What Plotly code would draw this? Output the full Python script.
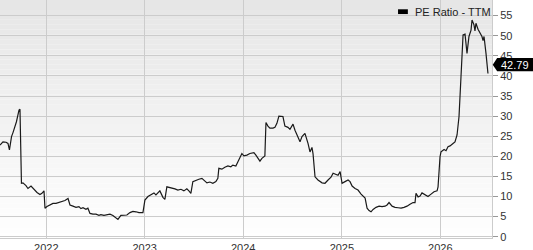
import pandas as pd
import plotly.graph_objects as go

# decimal-year time stamps and PE ratio values
t_years = [2021.530, 2021.560, 2021.591, 2021.611, 2021.626, 2021.647, 2021.662, 2021.682, 2021.697, 2021.723,
           2021.733, 2021.748, 2021.763, 2021.794, 2021.814, 2021.845, 2021.875, 2021.906, 2021.936, 2021.956,
           2021.977, 2021.987, 2022.007, 2022.038, 2022.068, 2022.099, 2022.129, 2022.160, 2022.190, 2022.221,
           2022.241, 2022.271, 2022.302, 2022.332, 2022.352, 2022.373, 2022.403, 2022.423, 2022.444, 2022.474,
           2022.505, 2022.535, 2022.555, 2022.586, 2022.616, 2022.647, 2022.677, 2022.708, 2022.728, 2022.758,
           2022.789, 2022.819, 2022.850, 2022.880, 2022.911, 2022.941, 2022.982, 2023.002, 2023.033, 2023.063,
           2023.094, 2023.114, 2023.134, 2023.154, 2023.185, 2023.205, 2023.225, 2023.246, 2023.276, 2023.307,
           2023.337, 2023.368, 2023.398, 2023.428, 2023.449, 2023.469, 2023.489, 2023.520, 2023.550, 2023.581,
           2023.611, 2023.632, 2023.662, 2023.692, 2023.723, 2023.743, 2023.753, 2023.784, 2023.814, 2023.845,
           2023.875, 2023.895, 2023.926, 2023.946, 2023.967, 2023.987, 2024.007, 2024.038, 2024.068, 2024.109,
           2024.129, 2024.170, 2024.190, 2024.220, 2024.231, 2024.251, 2024.271, 2024.302, 2024.322, 2024.342,
           2024.362, 2024.383, 2024.403, 2024.423, 2024.454, 2024.474, 2024.505, 2024.525, 2024.545, 2024.576,
           2024.596, 2024.626, 2024.657, 2024.677, 2024.697, 2024.708, 2024.728, 2024.758, 2024.799, 2024.829,
           2024.860, 2024.890, 2024.911, 2024.941, 2024.961, 2024.982, 2025.002, 2025.032, 2025.063, 2025.083,
           2025.104, 2025.134, 2025.164, 2025.195, 2025.215, 2025.236, 2025.256, 2025.276, 2025.296, 2025.317,
           2025.347, 2025.378, 2025.408, 2025.439, 2025.459, 2025.479, 2025.510, 2025.540, 2025.571, 2025.601,
           2025.631, 2025.662, 2025.692, 2025.723, 2025.743, 2025.753, 2025.774, 2025.794, 2025.814, 2025.845,
           2025.875, 2025.906, 2025.936, 2025.967, 2025.977, 2025.997, 2026.007, 2026.038, 2026.058, 2026.078,
           2026.099, 2026.129, 2026.149, 2026.170, 2026.190, 2026.210, 2026.231, 2026.251, 2026.271, 2026.291,
           2026.312, 2026.322, 2026.342, 2026.352, 2026.362, 2026.383, 2026.403, 2026.423, 2026.434, 2026.444,
           2026.464, 2026.484]
pe_values = [22.8, 23.6, 23.5, 23.2, 21.6, 24.9, 25.9, 27.4, 28.6, 31.5,
             31.7, 13.3, 13.4, 12.7, 12.0, 12.6, 11.8, 11.0, 10.5, 10.8,
             11.4, 7.1, 7.5, 7.9, 8.3, 8.3, 8.5, 8.9, 9.0, 9.5,
             7.9, 7.6, 7.3, 7.5, 7.0, 7.2, 6.8, 7.1, 5.8, 5.6,
             5.6, 5.3, 5.5, 5.3, 5.5, 5.6, 5.3, 4.8, 4.3, 5.3,
             5.4, 5.4, 6.0, 6.3, 6.2, 6.0, 6.0, 9.1, 10.0, 10.4,
             10.9, 10.4, 10.9, 11.4, 9.8, 9.3, 12.4, 12.3, 12.0, 11.9,
             11.6, 11.8, 11.4, 11.9, 11.4, 10.8, 13.7, 14.1, 14.3, 14.5,
             13.9, 13.4, 13.6, 13.3, 13.7, 14.5, 17.0, 16.8, 17.3, 17.6,
             17.4, 17.8, 17.6, 18.7, 19.8, 20.7, 20.1, 20.3, 20.7, 20.9,
             20.3, 18.8, 19.5, 20.1, 28.4, 27.5, 27.0, 27.0, 27.2, 28.2,
             30.0, 30.0, 29.9, 27.5, 27.2, 26.7, 28.0, 26.5, 25.3, 23.6,
             24.9, 25.7, 23.2, 21.1, 22.2, 20.6, 14.9, 14.1, 13.4, 13.3,
             14.1, 14.8, 15.8, 15.6, 15.3, 16.2, 13.3, 13.7, 14.1, 13.7,
             12.6, 12.0, 11.6, 10.6, 10.1, 9.6, 7.1, 6.5, 6.2, 6.8,
             7.3, 7.6, 7.5, 7.6, 7.9, 8.5, 7.6, 7.3, 7.2, 7.1,
             7.3, 7.6, 8.1, 8.5, 8.5, 10.8, 9.9, 10.1, 10.9, 10.4,
             10.0, 10.6, 11.2, 11.4, 12.4, 19.9, 21.1, 21.7, 21.4, 22.4,
             22.6, 23.2, 23.6, 25.3, 29.9, 39.8, 50.2, 50.4, 45.6, 49.8,
             51.4, 53.9, 52.7, 51.2, 53.1, 51.6, 50.6, 49.8, 48.8, 49.8,
             45.6, 40.6]
series_name = "PE Ratio - TTM"
last_label = 42.79
y_ticks = [0, 5, 10, 15, 20, 25, 30, 35, 40, 45, 50, 55]


def to_date(y):
    yr = int(y)
    start = pd.Timestamp(yr, 1, 1)
    diy = (pd.Timestamp(yr + 1, 1, 1) - start).days
    return start + pd.Timedelta(days=(y - yr) * diy)


dates = [to_date(v) for v in t_years]

fig = go.Figure()
fig.add_trace(go.Scatter(x=dates, y=pe_values, mode="lines",
                         line=dict(color="#1a1a1a", width=1.2),
                         showlegend=False, hoverinfo="skip"))

shapes = []
# vertical gradient background
n = 48
for i in range(n):
    c = int(230 + (255 - 230) * (i / (n - 1)))
    shapes.append(dict(type="rect", xref="x domain", yref="y domain",
                       x0=0, x1=1, y0=1 - (i + 1) / n, y1=1 - i / n,
                       fillcolor=f"rgb({c},{c},{c})", line=dict(width=0),
                       layer="below"))
# legend swatch
shapes.append(dict(type="rect", xref="paper", yref="paper",
                   x0=0.809, x1=0.829, y0=0.941, y1=0.961,
                   fillcolor="#000000", line=dict(width=0), layer="above"))
# last-value arrow label
h = 1.65
shapes.append(dict(type="path", xref="paper", yref="y",
                   path=f"M 1.0015 {last_label} L 1.0105 {last_label + h} L 1.09 {last_label + h} "
                        f"L 1.09 {last_label - h} L 1.0105 {last_label - h} Z",
                   fillcolor="#000000", line=dict(width=0), layer="above"))

fig.update_layout(
    width=533, height=250,
    margin=dict(l=0, r=41, t=0, b=12),
    paper_bgcolor="white", plot_bgcolor="rgba(0,0,0,0)",
    font=dict(family="Liberation Sans, Arial, sans-serif", size=11, color="#333333"),
    shapes=shapes,
    showlegend=False,
    annotations=[
        dict(text=series_name, xref="paper", yref="paper", x=0.8394, y=0.951,
             xanchor="left", yanchor="middle", showarrow=False,
             font=dict(size=11, color="#222222")),
        dict(text=f"{last_label:.2f}", xref="paper", yref="y", x=1.047, y=last_label,
             xanchor="center", yanchor="middle", showarrow=False,
             font=dict(size=11, color="#ffffff")),
    ],
)
fig.update_xaxes(
    range=[to_date(2021.530), to_date(2026.525)],
    type="date", tick0="2022-01-01", dtick="M12", tickformat="%Y",
    showgrid=True, gridcolor="#cccccc", gridwidth=1,
    showline=True, linecolor="#cccccc", mirror=True,
    ticks="", ticklabelstandoff=0, automargin=False,
    tickfont=dict(size=11, color="#333333"),
    zeroline=False,
)
fig.update_yaxes(
    side="right", range=[-0.32, 58.88], automargin=False,
    tickvals=y_ticks, ticktext=[str(v) for v in y_ticks],
    showgrid=True, gridcolor="#cccccc", gridwidth=1,
    showline=True, linecolor="#cccccc", mirror=True,
    ticks="outside", ticklen=5, tickcolor="#999999",
    tickfont=dict(size=11, color="#333333"), zeroline=False,
)

fig.write_html("out.html")
